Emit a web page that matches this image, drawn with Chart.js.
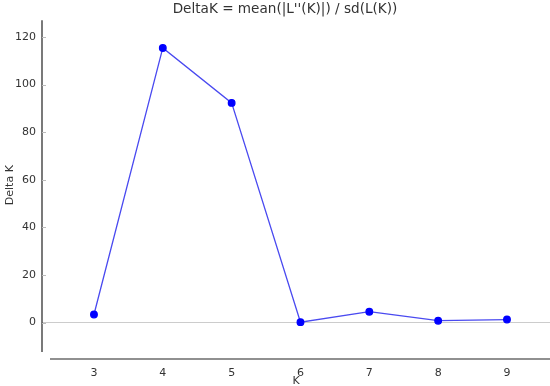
<!DOCTYPE html>
<html>
<head>
<meta charset="utf-8">
<script src="https://cdn.jsdelivr.net/npm/chart.js@4"></script>
<style>
    body { margin: 0; background: #fff; }
    #wrap { width: 550px; height: 386px; overflow: hidden; }
</style>
</head>
<body>
<div id="wrap"><canvas id="chart" width="550" height="386"></canvas></div>
<script>
// data
const kValues = [3, 4, 5, 6, 7, 8, 9];
const deltaK = [3.4, 115.4, 92.3, 0.2, 4.6, 0.8, 1.3];
const yTickValues = [0, 20, 40, 60, 80, 100, 120];

const textColor = "#333333";
const fontFamily = "'DejaVu Sans', sans-serif";

// draws the detached matplotlib-like spines and small inward y ticks
const spines = {
    id: "spines",
    afterDraw(chart) {
        const { ctx, chartArea, scales } = chart;
        ctx.save();
        ctx.strokeStyle = "#222";
        ctx.lineWidth = 1.2;
        ctx.beginPath();
        ctx.moveTo(chartArea.left, chartArea.top);
        ctx.lineTo(chartArea.left, chartArea.bottom + 2);
        ctx.moveTo(chartArea.left + 8, chartArea.bottom + 9);
        ctx.lineTo(chartArea.right, chartArea.bottom + 9);
        ctx.stroke();

        ctx.strokeStyle = "#bbb";
        ctx.lineWidth = 1;
        ctx.beginPath();
        yTickValues.forEach(v => {
            const y = Math.round(scales.y.getPixelForValue(v)) + 0.5;
            ctx.moveTo(chartArea.left, y);
            ctx.lineTo(chartArea.left + 4, y);
        });
        ctx.stroke();
        ctx.restore();
    },
};

const chartCanvas = document.getElementById("chart").getContext("2d");

new Chart(chartCanvas, {
    type: "line",
    data: {
        datasets: [
            {
                label: "Delta K",
                data: kValues.map((k, i) => ({ x: k, y: deltaK[i] })),
                borderColor: "#4a4af0",
                borderWidth: 1.3,
                pointBackgroundColor: "#0000ff",
                pointBorderColor: "#0000ff",
                pointRadius: 3.3,
                tension: 0,
            },
        ],
    },
    options: {
        responsive: false,
        animation: false,
        // negative right padding only moves the title centre right, like in the picture
        layout: { autoPadding: false, padding: { right: -20, left: 0, top: 0, bottom: 0 } },
        scales: {
            x: {
                type: "linear",
                min: 2.245,
                max: 9.625,
                afterBuildTicks: scale => {
                    scale.ticks = kValues.map(v => ({ value: v }));
                },
                afterFit: scale => {
                    scale.height = 36;
                    scale.paddingLeft = 0;
                    scale.paddingRight = 0;
                },
                border: { display: false },
                grid: { display: false },
                ticks: {
                    color: textColor,
                    padding: 9,
                    maxRotation: 0,
                    font: { family: fontFamily, size: 11 },
                },
                title: {
                    display: true,
                    text: "K",
                    color: textColor,
                    padding: { top: 0, bottom: -2 },
                    font: { family: fontFamily, size: 11 },
                },
            },
            y: {
                min: -11.5,
                max: 127,
                afterBuildTicks: scale => {
                    scale.ticks = yTickValues.map(v => ({ value: v }));
                },
                afterFit: scale => {
                    scale.width = 42;
                },
                border: { display: false },
                grid: {
                    drawTicks: false,
                    color: ctx => (ctx.tick && ctx.tick.value === 0 ? "#cccccc" : "rgba(0,0,0,0)"),
                },
                ticks: {
                    color: textColor,
                    padding: 6,
                    font: { family: fontFamily, size: 11 },
                },
                title: {
                    display: true,
                    text: "Delta K",
                    color: textColor,
                    padding: { top: 4, bottom: 0 },
                    font: { family: fontFamily, size: 11 },
                },
            },
        },
        plugins: {
            legend: { display: false },
            tooltip: { enabled: false },
            title: {
                display: true,
                text: "DeltaK = mean(|L''(K)|) / sd(L(K))",
                color: textColor,
                padding: { top: 1, bottom: 3 },
                font: { family: fontFamily, size: 13.6, weight: "normal" },
            },
        },
    },
    plugins: [spines],
});
</script>
</body>
</html>
